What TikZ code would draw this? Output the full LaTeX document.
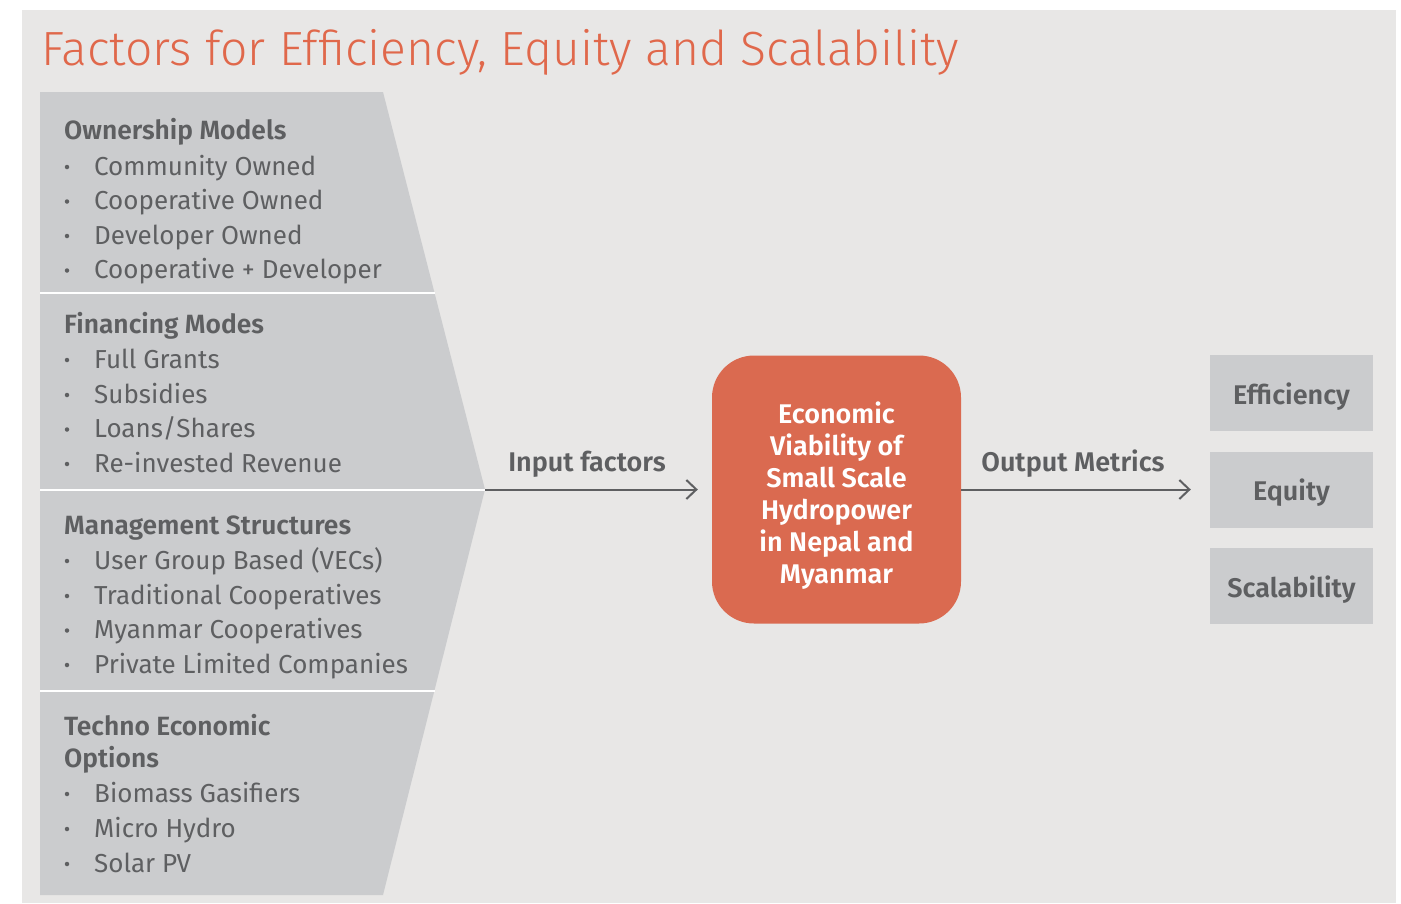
\documentclass[tikz,border=0pt]{standalone}
\usepackage{fontspec}
\setmainfont{Fira Sans}[BoldFont={Fira Sans SemiBold}]
\newfontfamily\lightfont{Fira Sans Light}
\usetikzlibrary{arrows.meta}
\definecolor{panel}{HTML}{E8E7E6}
\definecolor{blockgray}{HTML}{CBCCCE}
\definecolor{txt}{HTML}{5E5F61}
\definecolor{orng}{HTML}{DA6A50}
\definecolor{ttl}{HTML}{E0684B}
\begin{document}
\begin{tikzpicture}[x=1pt,y=-1pt,
  head/.style={anchor=base west, inner sep=0pt, text=txt, font=\fontsize{26.4}{30}\selectfont\bfseries},
  item/.style={anchor=base west, inner sep=0pt, text=txt, font=\fontsize{26}{30}\selectfont},
  dot/.style={circle, fill=txt, inner sep=0pt, minimum size=4.5pt},
  core/.style={fill=orng, rounded corners=42pt, minimum width=249pt, minimum height=268pt, text=white, align=center, inner sep=0pt, font=\fontsize{27}{32}\selectfont\bfseries},
  metric/.style={fill=blockgray, minimum width=163pt, minimum height=76pt, inner sep=0pt, text=txt, font=\fontsize{27}{30}\selectfont\bfseries},
  lbl/.style={anchor=base, inner sep=0pt, text=txt, font=\fontsize{27}{30}\selectfont\bfseries},
  arr/.style={draw=txt, line width=2pt, -{Straight Barb[length=10pt,width=19pt]}}
]
\useasboundingbox (0,0) rectangle (1401,903);
\fill[white] (0,0) rectangle (1401,903);
\fill[panel] (22,10) rectangle (1396,903);

\node[anchor=base west, inner sep=0pt, text=ttl, font=\lightfont\fontsize{48}{50}\selectfont] (title) at (41,65) {Factors for Efficiency, Equity and Scalability};

\coordinate (tip) at (485,489.5);
\fill[blockgray] (40,92) -- (383,92) -- (tip) -- (383,895) -- (40,895) -- cycle;
\draw[white, line width=2.5pt] (40,293) -- (434.5,293);
\draw[white, line width=2.5pt] (40,490) -- (485,490);
\draw[white, line width=2.5pt] (40,691) -- (434.5,691);

\node[head] (h1) at (64,139) {Ownership Models};
\foreach \t/\y [count=\i] in {Community Owned/175, Cooperative Owned/209.5, Developer Owned/244, Cooperative + Developer/278.5}{
  \node[item] (own\i) at (94,\y) {\t};
  \node[dot] (ownd\i) at (67,\y-8) {};
}
\node[head] (h2) at (64,333) {Financing Modes};
\foreach \t/\y [count=\i] in {Full Grants/368, Subsidies/403, {Loans/Shares}/437.5, Re-invested Revenue/472}{
  \node[item] (fin\i) at (94,\y) {\t};
  \node[dot] (find\i) at (67,\y-8) {};
}
\node[head] (h3) at (64,534) {Management Structures};
\foreach \t/\y [count=\i] in {User Group Based (VECs)/569, Traditional Cooperatives/604, Myanmar Cooperatives/638.5, Private Limited Companies/673}{
  \node[item] (man\i) at (94,\y) {\t};
  \node[dot] (mand\i) at (67,\y-8) {};
}
\node[head] (h4a) at (64,735) {Techno Economic};
\node[head] (h4b) at (64,767) {Options};
\foreach \t/\y [count=\i] in {Biomass Gasifiers/802, Micro Hydro/837, Solar PV/872}{
  \node[item] (tec\i) at (94,\y) {\t};
  \node[dot] (tecd\i) at (67,\y-8) {};
}

\node[core] (core) at (836.5,489.5) {\rule{0pt}{34pt}Economic\\Viability of\\Small Scale\\Hydropower\\in Nepal and\\Myanmar};

\node[metric] (eff) at (1291.5,393) {\rule{0pt}{28pt}Efficiency};
\node[metric] (eq) at (1291.5,489.5) {\rule{0pt}{28pt}Equity};
\node[metric] (sca) at (1291.5,586) {\rule{0pt}{28pt}Scalability};

\draw[arr, shorten >=14pt] (tip) -- (core.west);
\draw[arr, shorten >=19pt] (core.east) -- (eq.west);
\node[lbl] (inl) at (587,471) {Input factors};
\node[lbl] (outl) at (1073,471) {Output Metrics};
\end{tikzpicture}
\end{document}
